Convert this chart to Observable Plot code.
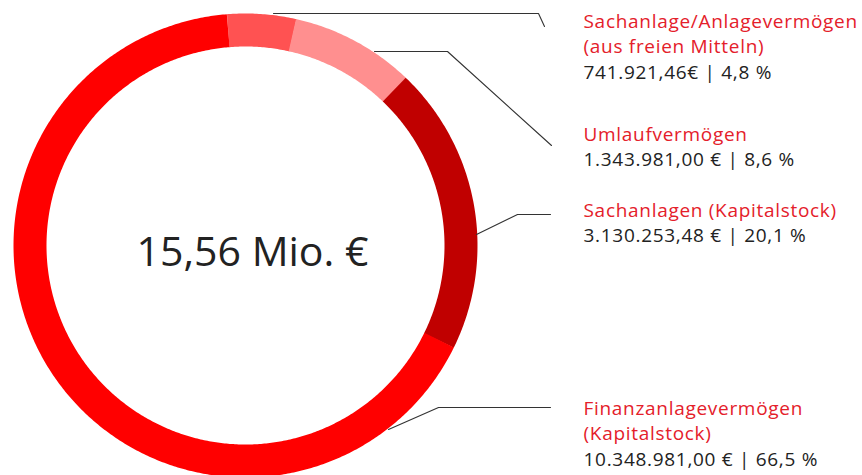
<!DOCTYPE html>
<html>
<head>
<meta charset="utf-8">
<script src="https://cdn.jsdelivr.net/npm/d3@7"></script>
<script src="https://cdn.jsdelivr.net/npm/@observablehq/plot@0.6"></script>
<style>
  html, body { margin: 0; padding: 0; background: #fff; }
  #chart svg { display: block; }
</style>
</head>
<body>
<div id="chart"></div>
<script>
// ---- data ----
const categories = [
  "Sachanlage/Anlagevermögen\n(aus freien Mitteln)",
  "Umlaufvermögen",
  "Sachanlagen (Kapitalstock)",
  "Finanzanlagevermögen\n(Kapitalstock)"
];
const amounts = [741921.46, 1343981.00, 3130253.48, 10348981.00];
const amountLabels = ["741.921,46€", "1.343.981,00 €", "3.130.253,48 €", "10.348.981,00 €"];
const shareLabels = ["4,8 %", "8,6 %", "20,1 %", "66,5 %"];
const totalLabel = "15,56 Mio. €";
const sliceColors = ["#ff5252", "#ff8f8f", "#c00000", "#ff0000"];

// ---- layout ----
const W = 862, H = 475;
const cx = 245, cy = 245, rOuter = 232, rInner = 199;
const startDeg = -4.6;
const labelX = 583;
const labelBaselines = [27, 140, 216, 414];
const lineStep = 25.7;
// leader paths (px): start on ring, elbow, end
const leaders = [
  [[273, 13], [538, 13], [544, 26]],
  [[374, 51], [447, 51], [551, 145]],
  [[476, 234], [517, 214], [550, 214]],
  [[388, 429], [438, 407], [550, 407]]
];

// ---- build ring arcs from data ----
const total = d3.sum(amounts);
const rMid = (rOuter + rInner) / 2;
const arcPts = [];
let acc = 0;
amounts.forEach((v, i) => {
  const a0 = startDeg + acc / total * 360;
  acc += v;
  const a1 = startDeg + acc / total * 360 + (i < amounts.length - 1 ? 0.15 : 0);
  const n = Math.max(8, Math.ceil((a1 - a0) * 2));
  for (let k = 0; k <= n; k++) {
    const a = (a0 + (a1 - a0) * k / n) * Math.PI / 180;
    arcPts.push({cat: i, x: cx + rMid * Math.sin(a), y: cy - rMid * Math.cos(a)});
  }
});

const leaderPts = leaders.flatMap((pts, i) => pts.map(([x, y]) => ({cat: i, x, y})));

const textRows = [];
categories.forEach((c, i) => {
  const lines = c.split("\n");
  lines.forEach((t, j) => textRows.push({x: labelX, y: labelBaselines[i] + j * lineStep, t, kind: "name"}));
  textRows.push({x: labelX, y: labelBaselines[i] + lines.length * lineStep, t: `${amountLabels[i]} | ${shareLabels[i]}`, kind: "value"});
});

const chart = Plot.plot({
  width: W,
  height: H,
  margin: 0,
  style: {background: "#fff", fontFamily: "'Open Sans', sans-serif"},
  x: {domain: [0, W], range: [0, W], axis: null},
  y: {domain: [0, H], range: [0, H], axis: null},
  marks: [
    Plot.line(arcPts, {x: "x", y: "y", z: "cat", stroke: d => sliceColors[d.cat], strokeWidth: rOuter - rInner, strokeLinecap: "butt", strokeLinejoin: "round", curve: "linear"}),
    Plot.line(leaderPts, {x: "x", y: "y", z: "cat", stroke: "#333", strokeWidth: 1.1}),
    Plot.text([totalLabel], {x: [252], y: [265], text: d => d, lineAnchor: "bottom", fontSize: 41, fill: "#222", textAnchor: "middle", fontFamily: "'Open Sans', sans-serif"}),
    Plot.text(textRows.filter(d => d.kind === "name"), {x: "x", y: "y", text: "t", lineAnchor: "bottom", textAnchor: "start", fontSize: 19, fill: "#e4202a"}),
    Plot.text(textRows.filter(d => d.kind === "value"), {x: "x", y: "y", text: "t", lineAnchor: "bottom", textAnchor: "start", fontSize: 19, fill: "#222"})
  ]
});
const textGroups = chart.querySelectorAll('g[aria-label="text"]');
textGroups.forEach((g, i) => { if (i > 0) g.setAttribute("letter-spacing", "0.7px"); });
document.getElementById("chart").appendChild(chart);
</script>
</body>
</html>
